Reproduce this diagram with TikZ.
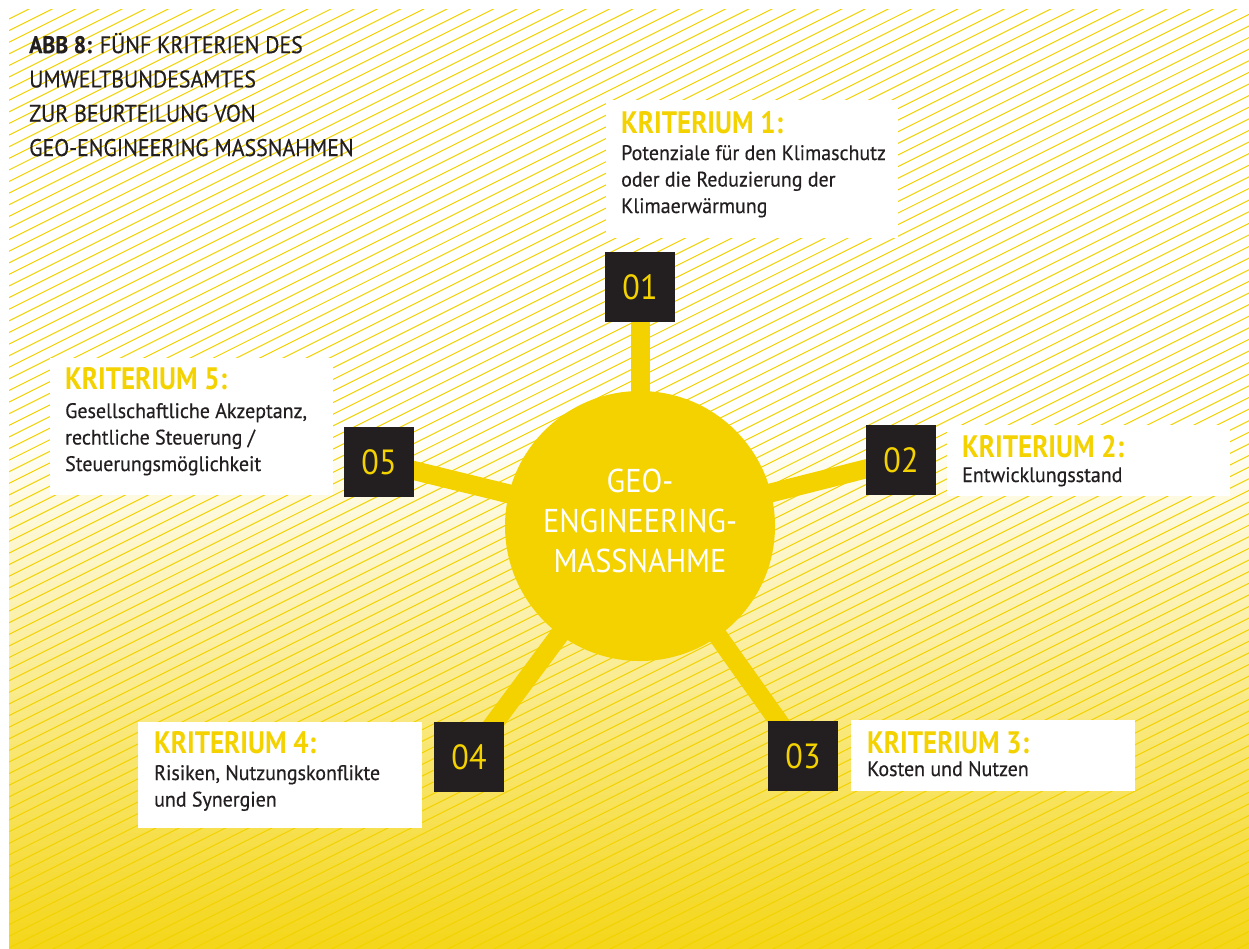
\documentclass[tikz,border=0pt]{standalone}
\usepackage{fontspec}
\setmainfont[FakeStretch=0.95,FakeBold=0.4]{PT Sans}
\newfontfamily\headfont[FakeStretch=0.87]{PT Sans}
\newfontfamily\titlefont[FakeStretch=0.91,FakeBold=0.4]{PT Sans}
\newfontfamily\circfont[FakeStretch=0.92]{PT Sans}
\definecolor{ylw}{RGB}{243,210,0}
\definecolor{blk}{RGB}{35,31,32}
\begin{document}
\begin{tikzpicture}[x=1pt,y=-1pt,
  spoke/.style={ylw, line width=19},
  numbox/.style={rectangle, fill=blk, minimum size=70, inner sep=0, text=ylw, font=\circfont\fontsize{35}{35}\selectfont},
  wbox/.style={rectangle, fill=white, inner sep=0, anchor=north west},
  head/.style={anchor=base west, inner sep=0, text=ylw, font=\headfont\bfseries\fontsize{31}{31}\selectfont},
  bodytext/.style={anchor=base west, inner sep=0, text=blk, align=left, font=\fontsize{21}{26.5}\selectfont},
]
\useasboundingbox (0,0) rectangle (1249,948);
\fill[white] (0,0) rectangle (1249,948);
\fill[white] (9,9) rectangle (1249,430);
\shade[top color=white, bottom color=ylw!90!white] (9,430) rectangle (1249,948);
\begin{scope}
\clip (9,9) rectangle (1249,948);
\foreach \k in {-1,...,136}
  \draw[ylw, line width=1.0] (0,23.5+11.61*\k) -- (1249,23.5+11.61*\k-624.5);
\end{scope}

% title (anchor at the baseline of its last line)
\node[anchor=base west, inner sep=0, text=blk, align=left, font=\titlefont\fontsize{24}{34.3}\selectfont] (title) at (29,156)
  {\textbf{ABB 8:} FÜNF KRITERIEN DES\\UMWELTBUNDESAMTES\\ZUR BEURTEILUNG VON\\GEO-ENGINEERING MASSNAHMEN};

% centre and numbered boxes
\coordinate (cc) at (640,526);
\node[numbox] (b1) at (640,287) {01};
\node[numbox] (b2) at (901,460) {02};
\node[numbox] (b3) at (803,756) {03};
\node[numbox] (b4) at (469,757) {04};
\node[numbox] (b5) at (379,462) {05};
\foreach \b in {b1,b2,b3,b4,b5} \draw[spoke] (cc) -- (\b.center);
\node[circle, fill=ylw, minimum size=270, inner sep=0] (c) at (cc) {};
\node[numbox] at (b1) {01};
\node[numbox] at (b2) {02};
\node[numbox] at (b3) {03};
\node[numbox] at (b4) {04};
\node[numbox] at (b5) {05};
\node[text=white, align=center, inner sep=0, font=\circfont\fontsize{33}{40}\selectfont] (ctext) at (640,521)
  {GEO-\\ENGINEERING-\\MASSNAHME};

% white boxes (body nodes anchored at the baseline of their last line)
\node[wbox, minimum width=292, minimum height=138] (k1) at (606,100) {};
\node[head] (h1) at (621,133) {KRITERIUM 1:};
\node[bodytext] (t1) at (621,213) {Potenziale für den Klimaschutz\\oder die Reduzierung der\\Klimaerwärmung};

\node[wbox, minimum width=283, minimum height=71] (k2) at (947,425) {};
\node[head] (h2) at (962,457) {KRITERIUM 2:};
\node[bodytext] (t2) at (962,482) {Entwicklungsstand};

\node[wbox, minimum width=284, minimum height=71] (k3) at (851,720) {};
\node[head] (h3) at (867,753) {KRITERIUM 3:};
\node[bodytext] (t3) at (867,776) {Kosten und Nutzen};

\node[wbox, minimum width=284, minimum height=106] (k4) at (138,722) {};
\node[head] (h4) at (154,753) {KRITERIUM 4:};
\node[bodytext] (t4) at (154,806.5) {Risiken, Nutzungskonflikte\\und Synergien};

\node[wbox, minimum width=283, minimum height=137] (k5) at (50,358) {};
\node[head] (h5) at (65,389) {KRITERIUM 5:};
\node[bodytext] (t5) at (65,471) {Gesellschaftliche Akzeptanz,\\rechtliche Steuerung /\\Steuerungsmöglichkeit};
\end{tikzpicture}
\end{document}
